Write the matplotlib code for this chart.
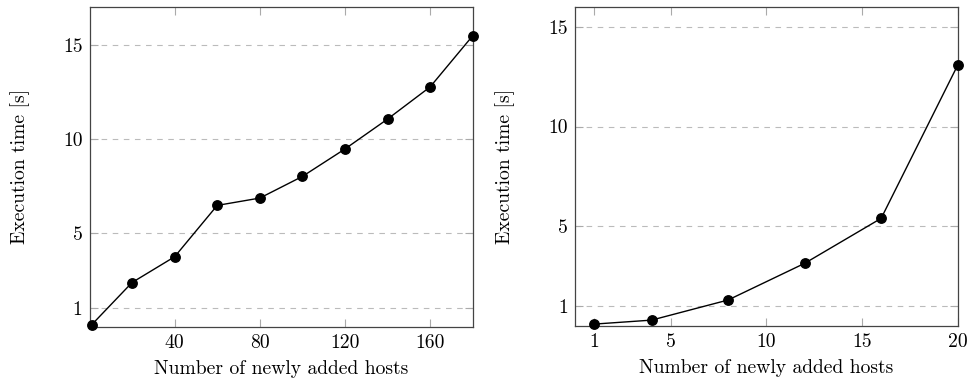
import matplotlib
matplotlib.use("Agg")
import matplotlib.pyplot as plt

plt.rcParams['font.family'] = 'serif'
plt.rcParams['font.serif'] = ['cmr10']
plt.rcParams['axes.formatter.use_mathtext'] = True
plt.rcParams['mathtext.fontset'] = 'cm'

# Left chart data
hosts_left = [1, 20, 40, 60, 80, 100, 120, 140, 160, 180]
time_left = [0.1, 2.35, 3.72, 6.45, 6.84, 7.99, 9.45, 11.04, 12.75, 15.47]
xticks_left = [40, 80, 120, 160]

# Right chart data
hosts_right = [1, 4, 8, 12, 16, 20]
time_right = [0.08, 0.28, 1.29, 3.13, 5.39, 13.08]
xticks_right = [1, 5, 10, 15, 20]

yticks = [1, 5, 10, 15]

fig = plt.figure(figsize=(9.7, 3.83), dpi=100)
W, H = 970, 383

def make_ax(left_px, right_px, top_px, bottom_px):
    return fig.add_axes([left_px / W, 1 - bottom_px / H,
                         (right_px - left_px) / W, (bottom_px - top_px) / H])

ax1 = make_ax(89.5, 472.7, 7, 326.7)
ax2 = make_ax(575, 957.7, 7, 325.7)

FS = 14.1
for ax, xs, ys, xt, xlim, ylim in [
    (ax1, hosts_left, time_left, xticks_left, (0, 180), (0, 17)),
    (ax2, hosts_right, time_right, xticks_right, (0, 20), (0, 16)),
]:
    ax.plot(xs, ys, color='black', lw=1.0, marker='o', markersize=6.8,
            clip_on=False, zorder=5)
    ax.set_xlim(*xlim)
    ax.set_ylim(*ylim)
    ax.set_xticks(xt)
    ax.set_yticks(yticks)
    ax.set_xticklabels([str(v) for v in xt])
    ax.set_yticklabels([str(v) for v in yticks])
    ax.grid(axis='y', color='#bbbbbb', linestyle=(0, (5, 5)), linewidth=0.8)
    ax.set_axisbelow(True)
    ax.tick_params(direction='in', length=6, width=0.8, color='#aaaaaa',
                   top=True, right=True, labelsize=FS)
    ax.tick_params(axis='x', pad=5)
    ax.tick_params(axis='y', pad=5)
    for s in ax.spines.values():
        s.set_color('#444444')
        s.set_linewidth(0.9)
    ax.set_xlabel('Number of newly added hosts', fontsize=FS, labelpad=6)
    ax.set_ylabel('Execution time [s]', fontsize=FS, labelpad=24)

fig.savefig('out.png', dpi=100)
